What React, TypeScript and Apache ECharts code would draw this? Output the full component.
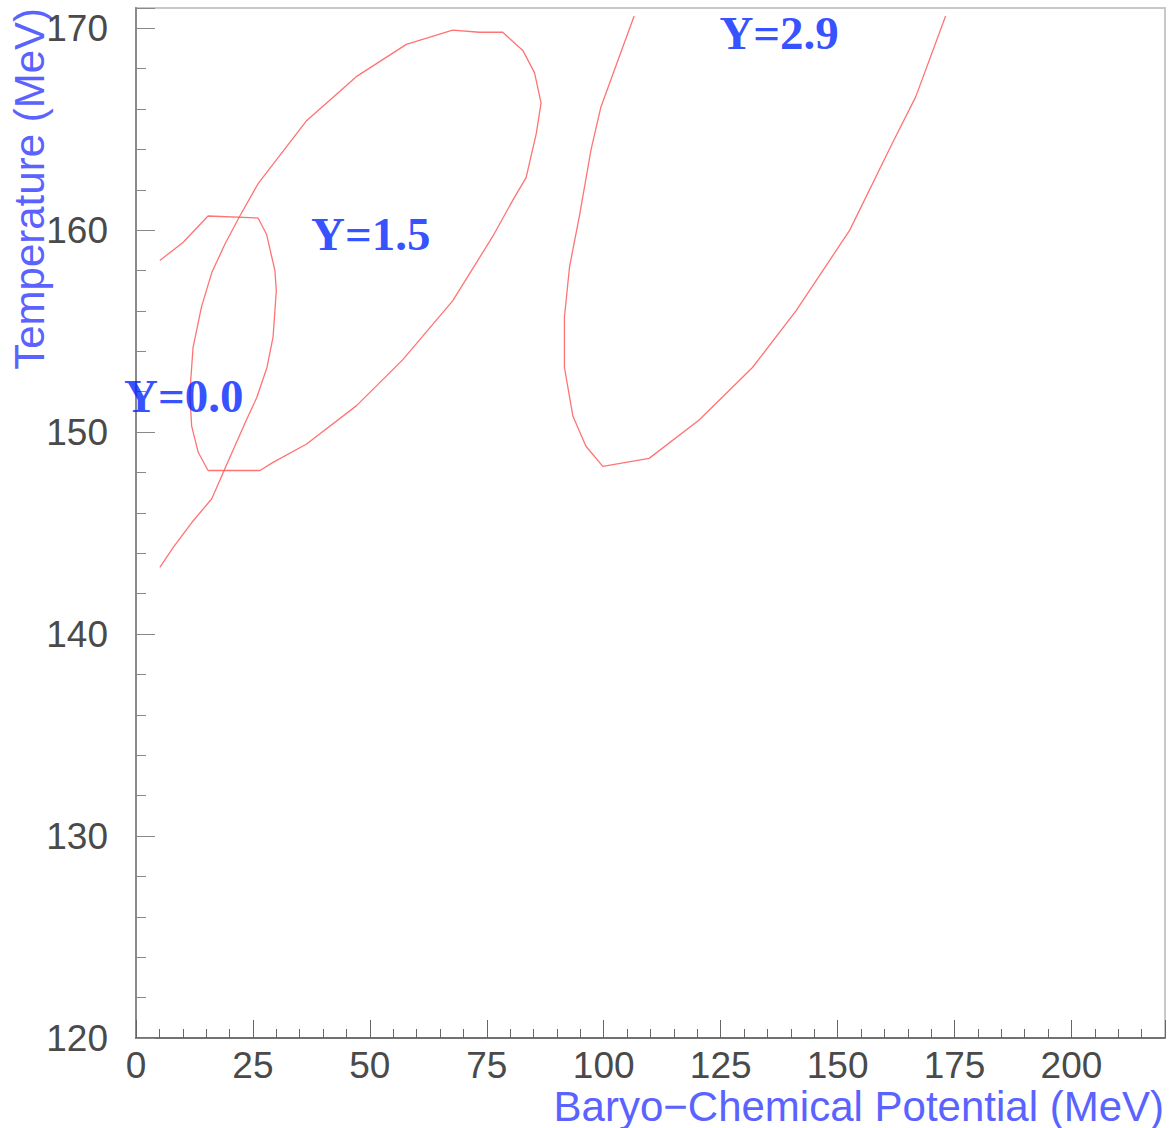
import React, { useEffect, useRef } from "react";
import * as echarts from "echarts";

// Contour Y=0.0 (open curve)
const y00Mu = [5.1, 10.1, 15.4, 26.1, 27.9, 29.7, 30.0, 29.3, 28.0, 25.8, 23.6, 19.4, 16.2, 12.2, 8.0, 5.1];
const y00T = [158.5, 159.4, 160.7, 160.6, 159.8, 158.0, 157.0, 154.7, 153.2, 151.7, 150.6, 148.4, 146.7, 145.6, 144.3, 143.3];

// Contour Y=1.5 (closed loop)
const y15Mu = [15.4, 13.3, 11.9, 11.5, 12.2, 14.0, 16.2, 19.0, 22.2, 26.1, 36.4, 47.1, 57.8, 67.7, 73.4, 78.4, 82.7, 85.2, 86.6, 85.6, 83.4, 80.6, 76.3, 67.7, 57.1, 47.1, 36.4, 29.3, 26.5, 15.4];
const y15T = [148.1, 149.0, 150.3, 151.9, 154.2, 156.2, 157.9, 159.3, 160.7, 162.3, 165.4, 167.6, 169.2, 169.9, 169.8, 169.8, 168.9, 167.8, 166.3, 164.8, 162.6, 161.5, 159.7, 156.5, 153.6, 151.3, 149.4, 148.5, 148.1, 148.1];

// Contour Y=2.9 (open, U-shaped)
const y29Mu = [106.5, 99.4, 97.3, 94.8, 92.7, 91.6, 91.6, 93.4, 96.2, 99.8, 109.7, 120.4, 131.8, 141.1, 152.6, 161.7, 166.7, 173.1];
const y29T = [170.6, 166.1, 164.0, 160.7, 158.2, 155.7, 153.2, 150.8, 149.3, 148.3, 148.7, 150.6, 153.2, 156.0, 160.0, 164.3, 166.6, 170.6];

// Contour labels (positions in data coordinates)
const labelNames = ["Y=0.0", "Y=1.5", "Y=2.9"];
const labelMu = [10.2, 50.2, 137.5];
const labelT = [151.8, 159.8, 169.75];

const xMin = 0;
const xMax = 220;
const yMin = 120;
const yMax = 171;
const xMajor = 25;
const xMinor = 5;
const yMajor = 10;
const yMinor = 2;

const xTitle = "Baryo\u2212Chemical Potential (MeV)";
const yTitle = "Temperature (MeV)";

const pairs = (xs: number[], ys: number[]) => xs.map((x, i) => [x, ys[i]]);

export default function App() {
  const ref = useRef<HTMLDivElement>(null);
  useEffect(() => {
    if (!ref.current) return;
    const chart = echarts.init(ref.current, null, { renderer: "svg" });
    const rect = { left: 136, top: 8, right: 4, bottom: 90 };
    const curveStyle = { color: "#ff5a5a", width: 1.3, opacity: 0.85 };
    const tickFont = { fontFamily: "Liberation Sans", fontSize: 37, color: "#4a4a4a", lineHeight: 30 };
    const lineSeries = (name: string, xs: number[], ys: number[]) => ({
      name,
      type: "line",
      xAxisIndex: 0,
      yAxisIndex: 0,
      data: pairs(xs, ys),
      showSymbol: false,
      symbol: "none",
      lineStyle: curveStyle,
    });
    chart.setOption({
      animation: false,
      backgroundColor: "#ffffff",
      grid: [
        {
          ...rect,
          show: true,
          borderColor: "#c8c8c8",
          borderWidth: 2,
          backgroundColor: "transparent",
        },
        { ...rect, show: false },
      ],
      xAxis: [
        {
          type: "value",
          gridIndex: 0,
          min: xMin,
          max: xMax,
          interval: xMajor,
          position: "bottom",
          axisLine: { show: true, lineStyle: { color: "#555", width: 1.5 } },
          axisTick: { show: true, inside: true, length: 18, lineStyle: { color: "#666", width: 1 } },
          axisLabel: {
            ...tickFont,
            margin: 12,
            formatter: (v: number) => (v % xMajor === 0 ? String(v) : ""),
          },
          splitLine: { show: false },
        },
        {
          type: "value",
          gridIndex: 1,
          min: xMin,
          max: xMax,
          interval: xMinor,
          position: "bottom",
          axisLine: { show: false },
          axisTick: { show: true, inside: true, length: 9, lineStyle: { color: "#666", width: 1 } },
          axisLabel: { show: false },
          splitLine: { show: false },
        },
      ],
      yAxis: [
        {
          type: "value",
          gridIndex: 0,
          min: yMin,
          max: yMax,
          interval: yMajor,
          position: "left",
          axisLine: { show: true, lineStyle: { color: "#8a8a8a", width: 2 } },
          axisTick: { show: true, inside: true, length: 19, lineStyle: { color: "#888", width: 1 } },
          axisLabel: {
            ...tickFont,
            margin: 28,
            formatter: (v: number) => (v % yMajor === 0 ? String(v) : ""),
          },
          splitLine: { show: false },
        },
        {
          type: "value",
          gridIndex: 1,
          min: yMin,
          max: yMax,
          interval: yMinor,
          position: "left",
          axisLine: { show: false },
          axisTick: { show: true, inside: true, length: 10, lineStyle: { color: "#888", width: 1 } },
          axisLabel: { show: false },
          splitLine: { show: false },
        },
      ],
      series: [
        lineSeries("Y=0.0", y00Mu, y00T),
        lineSeries("Y=1.5", y15Mu, y15T),
        lineSeries("Y=2.9", y29Mu, y29T),
        {
          name: "labels",
          type: "scatter",
          xAxisIndex: 0,
          yAxisIndex: 0,
          symbolSize: 0,
          data: labelNames.map((n, i) => ({ name: n, value: [labelMu[i], labelT[i]] })),
          label: {
            show: true,
            position: "inside",
            formatter: (p: any) => p.name,
            fontFamily: "Liberation Serif",
            fontWeight: "bold",
            fontSize: 47,
            color: "#0022ff",
          },
          z: 5,
        },
        {
          name: "minor",
          type: "line",
          xAxisIndex: 1,
          yAxisIndex: 1,
          data: [],
          silent: true,
        },
      ],
      graphic: [
        {
          type: "text",
          x: 1164,
          y: 1106,
          style: {
            text: xTitle,
            fontFamily: "Liberation Sans",
            fontSize: 42,
            lineHeight: 32,
            fill: "#5a62ff",
            textAlign: "right",
            textVerticalAlign: "middle",
          },
        },
        {
          type: "text",
          x: 29,
          y: 8,
          rotation: Math.PI / 2,
          style: {
            text: yTitle,
            fontFamily: "Liberation Sans",
            fontSize: 42,
            fill: "#5a62ff",
            textAlign: "right",
            textVerticalAlign: "middle",
          },
        },
      ],
    });
    return () => chart.dispose();
  }, []);
  return (
    <div
      ref={ref}
      style={{ position: "absolute", left: 0, top: 0, width: 1169, height: 1128, background: "#fff" }}
    />
  );
}
